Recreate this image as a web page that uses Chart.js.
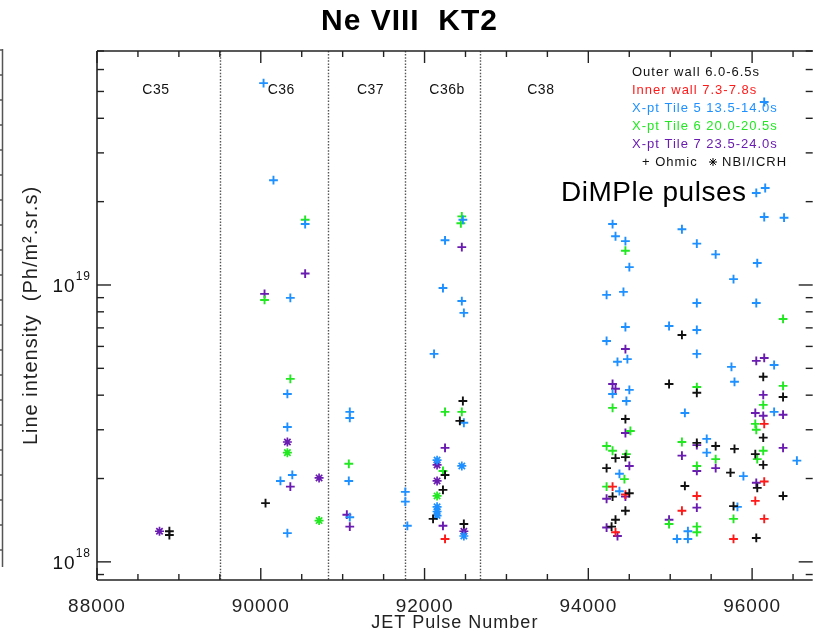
<!DOCTYPE html>
<html>
<head>
<meta charset="utf-8">
<title>Ne VIII KT2</title>
<script src="https://cdn.jsdelivr.net/npm/chart.js@4.4.1/dist/chart.umd.min.js"></script>
<style>
  html, body { margin: 0; padding: 0; background: #fff; }
  #wrap { width: 819px; height: 635px; }
</style>
</head>
<body>
<div id="wrap"><canvas id="kt2" width="819" height="635"></canvas></div>
<script>
// data: [JET pulse number, line intensity in Ph/m2.sr.s]
const outerOhmic = [
  [88884, 1.29e18], [88884, 1.25e18], [90058, 1.63e18],
  [92468, 3.81e18], [92431, 3.23e18], [92250, 2.06e18], [92225, 1.82e18], [92104, 1.43e18], [92480, 1.37e18],
  [95143, 6.60e18], [96136, 4.66e18], [94986, 4.39e18], [95325, 4.08e18], [96378, 3.94e18], [94453, 3.28e18],
  [96136, 2.81e18], [95325, 2.69e18], [95555, 2.62e18], [95785, 2.56e18], [94332, 2.37e18], [94453, 2.39e18],
  [96039, 2.45e18], [96136, 2.24e18], [94223, 2.18e18], [95736, 2.10e18], [94501, 1.77e18], [94296, 1.72e18],
  [95179, 1.88e18], [96063, 1.85e18], [96378, 1.73e18], [94453, 1.53e18], [95773, 1.59e18], [94332, 1.42e18],
  [94284, 1.34e18], [96051, 1.22e18]
];
const innerOhmic = [
  [92250, 1.21e18], [96148, 3.15e18], [94296, 1.87e18], [94453, 1.75e18], [96148, 1.95e18], [95325, 1.73e18],
  [96039, 1.66e18], [95143, 1.53e18], [96148, 1.43e18], [94332, 1.28e18], [95773, 1.21e18]
];
const tile5Ohmic = [
  [90034, 5.36e19], [90155, 2.39e19], [90542, 1.66e19], [90361, 8.98e18], [90325, 4.04e18], [90325, 3.07e18],
  [90385, 2.06e18], [90240, 1.96e18], [90325, 1.27e18],
  [91087, 3.48e18], [91087, 3.31e18], [91075, 1.96e18], [91087, 1.45e18],
  [91765, 1.79e18], [91765, 1.65e18], [91790, 1.35e18],
  [92468, 1.72e19], [92250, 1.45e19], [92225, 9.75e18], [92455, 8.75e18], [92480, 7.93e18], [92116, 5.64e18],
  [92480, 3.18e18],
  [96148, 4.58e19], [96051, 2.15e19], [96160, 2.24e19], [96148, 1.76e19], [96390, 1.75e19], [94296, 1.66e19],
  [95143, 1.59e19], [94332, 1.50e19], [94453, 1.44e19], [95325, 1.41e19], [95555, 1.29e19], [96063, 1.20e19],
  [94501, 1.16e19], [95773, 1.05e19], [94429, 9.44e18], [94223, 9.21e18], [95325, 8.61e18], [96051, 8.61e18],
  [94453, 7.05e18], [94986, 7.11e18], [95325, 6.88e18], [94223, 6.28e18], [95325, 5.64e18], [94356, 5.28e18],
  [94477, 5.40e18], [95748, 5.06e18], [96269, 5.14e18], [95785, 4.47e18], [94296, 4.04e18], [94501, 4.18e18],
  [94465, 3.81e18], [95179, 3.45e18], [96269, 3.48e18], [95446, 2.78e18], [95446, 2.48e18], [96547, 2.32e18],
  [95894, 2.04e18], [94380, 2.08e18], [94380, 1.80e18], [95821, 1.58e18], [95216, 1.29e18], [95083, 1.21e18],
  [95216, 1.21e18]
];
const tile5Nbi = [
  [92153, 2.33e18], [92455, 2.22e18], [92153, 1.58e18], [92153, 1.52e18], [92153, 1.47e18], [92480, 1.24e18]
];
const tile6Ohmic = [
  [90542, 1.72e19], [90046, 8.83e18], [90361, 4.58e18], [91075, 2.26e18],
  [92455, 1.77e19], [92443, 1.67e19], [92250, 3.48e18], [92455, 3.48e18], [92225, 2.13e18],
  [94453, 1.33e19], [96378, 7.54e18], [95325, 4.28e18], [96378, 4.32e18], [94296, 3.60e18], [96136, 3.69e18],
  [96039, 3.15e18], [96051, 3.00e18], [94514, 2.97e18], [95143, 2.71e18], [94223, 2.62e18], [94296, 2.52e18],
  [94465, 2.45e18], [96063, 2.35e18], [96136, 2.52e18], [95555, 2.35e18], [95325, 2.22e18], [94441, 1.99e18],
  [94223, 1.87e18], [94986, 1.37e18], [95773, 1.43e18], [95325, 1.34e18], [95325, 1.28e18]
];
const tile6Nbi = [[90325, 2.48e18], [90712, 1.41e18], [92153, 1.73e18]];
const tile7Ohmic = [
  [90542, 1.10e19], [90046, 9.29e18], [90361, 1.87e18], [91051, 1.48e18], [91087, 1.34e18],
  [92455, 1.37e19], [92250, 2.58e18], [92225, 1.35e18],
  [94453, 5.87e18], [96051, 5.32e18], [96148, 5.45e18], [94296, 4.39e18], [94332, 4.22e18], [96136, 4.01e18],
  [96039, 3.45e18], [96136, 3.37e18], [96378, 3.40e18], [94453, 2.92e18], [95325, 2.64e18], [95143, 2.42e18],
  [96378, 2.58e18], [94501, 2.22e18], [95325, 2.13e18], [95555, 2.18e18], [96051, 1.93e18], [94453, 1.72e18],
  [94223, 1.69e18], [95325, 1.57e18], [94986, 1.42e18], [94223, 1.33e18], [94356, 1.24e18]
];
const tile7Nbi = [
  [88763, 1.29e18], [90325, 2.71e18], [90712, 2.01e18], [92153, 2.24e18], [92153, 1.96e18], [92480, 1.29e18]
];

// campaigns and axis ticks
const campaignNames = ["C35", "C36", "C37", "C36b", "C38"];
const campaignCentres = [88720, 90250, 91340, 92275, 93420];
const campaignBounds = [89500, 90820, 91760, 92680];
const xTickValues = [88000, 90000, 92000, 94000, 96000];
const yTickValues = [1e18, 1e19];
const legendLines = [
  ["Outer wall 6.0-6.5s", "#111111"],
  ["Inner wall 7.3-7.8s", "#ff1a1a"],
  ["X-pt Tile 5 13.5-14.0s", "#1e90ff"],
  ["X-pt Tile 6 20.0-20.5s", "#22e822"],
  ["X-pt Tile 7 23.5-24.0s", "#6a1cb0"]
];

const FONT = "'Liberation Sans', Arial, Helvetica, sans-serif";

function makeSet(label, points, color, style) {
  return {
    label: label,
    data: points.map((p) => ({ x: p[0], y: p[1] })),
    pointStyle: style,
    pointRadius: style === "star" ? 4.5 : 4.4,
    pointBorderWidth: style === "star" ? 1.7 : 1.9,
    borderColor: color,
    backgroundColor: color,
    showLine: false
  };
}

const datasets = [
  makeSet("Outer wall", outerOhmic, "#111111", "cross"),
  makeSet("Inner wall", innerOhmic, "#ff1a1a", "cross"),
  makeSet("X-pt Tile 5", tile5Ohmic, "#1e90ff", "cross"),
  makeSet("X-pt Tile 5 NBI", tile5Nbi, "#1e90ff", "star"),
  makeSet("X-pt Tile 6", tile6Ohmic, "#22e822", "cross"),
  makeSet("X-pt Tile 6 NBI", tile6Nbi, "#22e822", "star"),
  makeSet("X-pt Tile 7", tile7Ohmic, "#6a1cb0", "cross"),
  makeSet("X-pt Tile 7 NBI", tile7Nbi, "#6a1cb0", "star")
];

function line(ctx, x1, y1, x2, y2) {
  ctx.beginPath();
  ctx.moveTo(x1, y1);
  ctx.lineTo(x2, y2);
  ctx.stroke();
}

// frame, inward ticks, dotted campaign boundaries and all free text
const idlFrame = {
  id: "idlFrame",
  beforeDraw(chart) {
    chart.ctx.letterSpacing = "1px";
  },
  beforeDatasetsDraw(chart) {
    const { ctx, chartArea: a, scales } = chart;
    const xs = scales.x, ys = scales.y;
    ctx.save();
    ctx.letterSpacing = "0px";

    // piece of the neighbouring panel on the far left
    ctx.strokeStyle = "#555";
    ctx.lineWidth = 1.5;
    line(ctx, 2.5, 49, 2.5, 567);
    for (let y = 50; y < 567; y += 25) line(ctx, 0, y, 2.5, y);

    // campaign boundaries
    ctx.strokeStyle = "#555";
    ctx.lineWidth = 1.4;
    ctx.setLineDash([1.5, 1.6]);
    campaignBounds.forEach((v) => {
      const px = Math.round(xs.getPixelForValue(v)) + 0.5;
      line(ctx, px, a.top, px, a.bottom);
    });
    ctx.setLineDash([]);

    // frame
    ctx.strokeStyle = "#222";
    ctx.lineWidth = 1.6;
    line(ctx, a.left, a.top, a.left, a.bottom);
    line(ctx, a.left, a.top, a.right, a.top);
    line(ctx, a.left, a.bottom, a.right, a.bottom);

    // x ticks, pointing inwards
    ctx.lineWidth = 1.4;
    for (let v = 88000; v <= xs.max; v += 500) {
      const px = xs.getPixelForValue(v);
      const len = v % 2000 === 0 ? 12 : 6;
      line(ctx, px, a.bottom, px, a.bottom - len);
      line(ctx, px, a.top, px, a.top + len);
    }
    // y ticks, pointing inwards
    [17, 18, 19].forEach((d) => {
      for (let m = 1; m <= 9; m++) {
        const v = m * Math.pow(10, d);
        if (v < ys.min || v > ys.max) continue;
        const py = ys.getPixelForValue(v);
        const len = m === 1 ? 14 : 7;
        line(ctx, a.left, py, a.left + len, py);
        line(ctx, a.right, py, a.right - len, py);
      }
    });
    ctx.restore();
  },
  afterDraw(chart) {
    const { ctx, chartArea: a, scales } = chart;
    const xs = scales.x, ys = scales.y;
    ctx.save();
    ctx.fillStyle = "#111";
    ctx.textBaseline = "middle";

    // y tick labels 10^18, 10^19
    yTickValues.forEach((v) => {
      const py = ys.getPixelForValue(v);
      const exp = String(Math.round(Math.log10(v)));
      ctx.textAlign = "right";
      ctx.letterSpacing = "1px";
      ctx.font = "12px " + FONT;
      const w = ctx.measureText(exp).width;
      ctx.fillText(exp, 91, py - 8);
      ctx.font = "19px " + FONT;
      ctx.fillText("10", 91 - w, py + 2);
    });

    // campaign names
    ctx.textAlign = "center";
    ctx.letterSpacing = "0.5px";
    ctx.font = "14px " + FONT;
    campaignNames.forEach((n, i) => {
      ctx.fillText(n, xs.getPixelForValue(campaignCentres[i]), a.top + 39);
    });

    // legend block
    ctx.textAlign = "left";
    ctx.font = "13px " + FONT;
    ctx.letterSpacing = "1px";
    legendLines.forEach((l, i) => {
      ctx.fillStyle = l[1];
      ctx.fillText(l[0], 632, 72 + 18 * i);
    });
    ctx.fillStyle = "#111";
    ctx.fillText("+ Ohmic", 642, 162);
    Chart.helpers.drawPoint(ctx, { pointStyle: "star", radius: 4, rotation: 0, borderWidth: 1.5 }, 713, 162);
    ctx.fillText("NBI/ICRH", 722, 162);

    // annotation
    ctx.letterSpacing = "0.5px";
    ctx.font = "28px " + FONT;
    ctx.fillStyle = "#000";
    ctx.fillText("DiMPle pulses", 561, 193);
    ctx.restore();
  }
};

const config = {
  type: "scatter",
  data: { datasets: datasets },
  options: {
    responsive: false,
    devicePixelRatio: 1,
    animation: false,
    layout: { padding: { top: 3, left: 0, right: 0, bottom: 0 } },
    plugins: {
      legend: { display: false },
      tooltip: { enabled: false },
      title: {
        display: true,
        text: "Ne VIII  KT2",
        color: "#000",
        font: { family: FONT, size: 30, weight: "bold" },
        padding: { top: 1, bottom: 11 }
      }
    },
    scales: {
      x: {
        type: "linear",
        min: 88000,
        max: 96740,
        bounds: "data",
        grid: { display: false, drawTicks: false },
        border: { display: false },
        afterBuildTicks: (s) => { s.ticks = xTickValues.map((v) => ({ value: v })); },
        afterFit: (s) => { s.height = 55; },
        ticks: {
          padding: 15,
          color: "#222",
          font: { family: FONT, size: 19 },
          callback: (v) => String(v)
        },
        title: {
          display: true,
          text: "JET Pulse Number",
          color: "#222",
          font: { family: FONT, size: 18 },
          padding: { top: 0, bottom: 1 }
        }
      },
      y: {
        type: "logarithmic",
        min: 8.6e17,
        max: 7.0e19,
        bounds: "data",
        grid: { display: false, drawTicks: false },
        border: { display: false },
        afterFit: (s) => { s.width = 97; },
        ticks: { display: false },
        title: {
          display: true,
          text: "Line intensity  (Ph/m².sr.s)",
          color: "#222",
          font: { family: FONT, size: 20 },
          padding: { top: 19, bottom: 0 }
        }
      }
    }
  },
  plugins: [idlFrame]
};

const myChart = new Chart(document.getElementById("kt2"), config);
</script>
</body>
</html>
